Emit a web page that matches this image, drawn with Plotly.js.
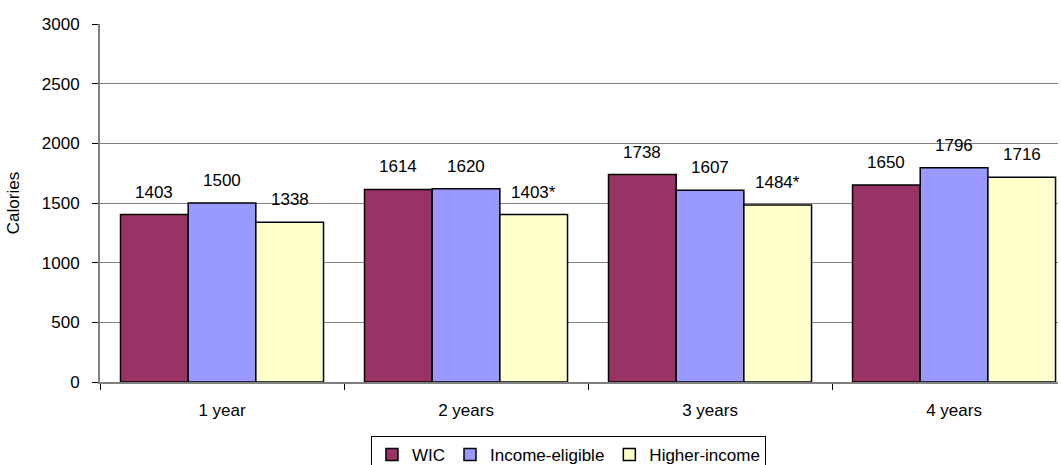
<!DOCTYPE html>
<html>
<head>
<meta charset="utf-8">
<script src="https://cdn.plot.ly/plotly-3.0.1.min.js"></script>
<style>
  html, body { margin: 0; padding: 0; background: #ffffff; }
  #chart { width: 1061px; height: 465px; }
</style>
</head>
<body>
<div id="chart"></div>
<script>
// Average daily calorie intake by child age and group
const ageGroups = ['1 year', '2 years', '3 years', '4 years'];
const wic = [1403, 1614, 1738, 1650];
const incomeEligible = [1500, 1620, 1607, 1796];
const higherIncome = [1338, 1403, 1484, 1716];
// Significance markers printed after a value
const wicFlags = ['', '', '', ''];
const incomeEligibleFlags = ['', '', '', ''];
const higherIncomeFlags = ['', '*', '*', ''];

const seriesNames = ['WIC', 'Income-eligible', 'Higher-income'];
const seriesColors = ['#993366', '#9999FF', '#FFFFCC'];
const seriesValues = [wic, incomeEligible, higherIncome];
const seriesFlags = [wicFlags, incomeEligibleFlags, higherIncomeFlags];

const FONT = '"Liberation Sans", Arial, sans-serif';
const FS = 17;
const bargap = 0.168;

const traces = seriesNames.map((name, s) => ({
  type: 'bar',
  name: name,
  x: ageGroups,
  y: seriesValues[s],
  marker: { color: seriesColors[s], line: { color: '#000000', width: 1.5 } },
  hoverinfo: 'x+y+name'
}));

// Value labels above each bar, offset within the group
const barWidth = (1 - bargap) / seriesNames.length;
const annotations = [];
seriesValues.forEach((vals, s) => {
  vals.forEach((v, i) => {
    annotations.push({
      xref: 'x', yref: 'y',
      x: i + (s - (seriesNames.length - 1) / 2) * barWidth,
      y: v,
      text: String(v) + seriesFlags[s][i],
      showarrow: false,
      yanchor: 'bottom',
      yshift: 11,
      font: { family: FONT, size: FS, color: '#000000' }
    });
  });
});

const layout = {
  width: 1061,
  height: 465,
  margin: { l: 100, r: 3, t: 24, b: 83, autoexpand: false },
  paper_bgcolor: '#ffffff',
  plot_bgcolor: '#ffffff',
  font: { family: FONT, size: FS, color: '#000000' },
  barmode: 'group',
  bargap: bargap,
  bargroupgap: 0,
  showlegend: true,
  legend: {
    orientation: 'h',
    x: 0.489, xanchor: 'center',
    y: -0.151, yanchor: 'top',
    bordercolor: '#000000', borderwidth: 1,
    font: { family: FONT, size: FS, color: '#000000' },
    itemwidth: 30,
    traceorder: 'normal'
  },
  xaxis: {
    type: 'category',
    range: [-0.5, 3.426],
    automargin: false,
    showgrid: false,
    showline: true,
    linecolor: '#808080',
    linewidth: 2,
    ticks: 'outside',
    tickson: 'boundaries',
    ticklen: 6,
    tickcolor: '#000000',
    ticklabelstandoff: 12,
    tickfont: { family: FONT, size: FS, color: '#000000' },
    fixedrange: true
  },
  yaxis: {
    range: [0, 3000],
    dtick: 500,
    automargin: true,
    showgrid: true,
    gridcolor: '#808080',
    gridwidth: 1,
    zeroline: false,
    showline: true,
    linecolor: '#808080',
    linewidth: 2,
    ticks: 'outside',
    ticklen: 6,
    tickcolor: '#000000',
    ticklabelstandoff: 9,
    tickfont: { family: FONT, size: FS, color: '#000000' },
    title: { text: 'Calories', font: { family: FONT, size: FS, color: '#000000' }, standoff: 18 },
    fixedrange: true
  },
  annotations: annotations
};

Plotly.newPlot('chart', traces, layout, { displayModeBar: false, staticPlot: true });
</script>
</body>
</html>
